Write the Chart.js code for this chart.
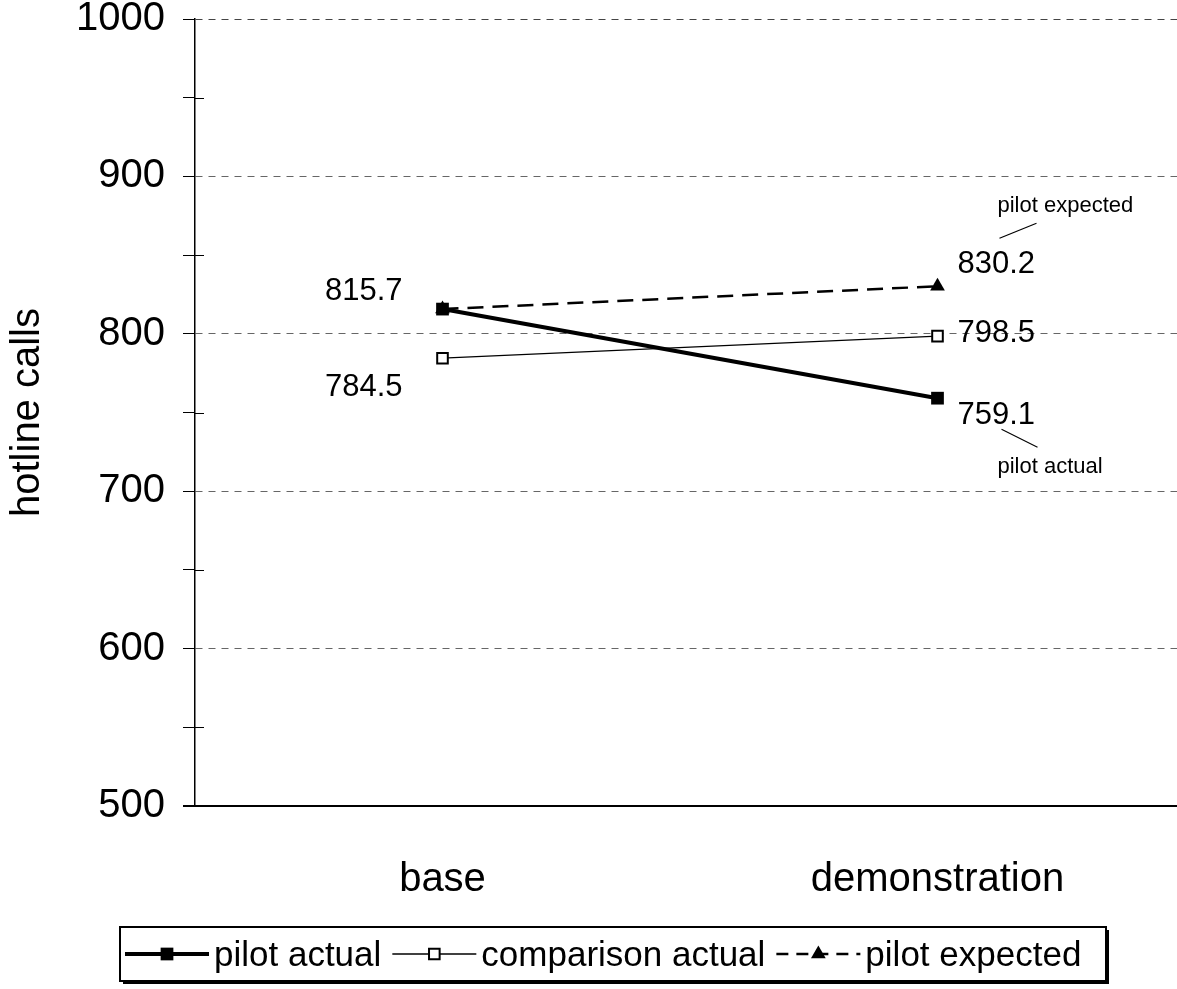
<!DOCTYPE html>
<html>
<head>
<meta charset="utf-8">
<script src="https://cdn.jsdelivr.net/npm/chart.js@4.4.0/dist/chart.umd.min.js"></script>
<style>
  html, body { margin: 0; padding: 0; background: #fff; overflow: hidden; }
  #wrap { width: 1177px; height: 989px; overflow: hidden; }
</style>
</head>
<body>
<div id="wrap"><canvas id="graph_calls" width="1185" height="989"></canvas></div>
<script>
/*------------------------------*/
/*            Données           */
/*------------------------------*/
var categories = ['base', 'demonstration']
var seriesNames = ['pilot actual', 'comparison actual', 'pilot expected']
var pilotActual = [815.7, 759.1]
var comparisonActual = [784.5, 798.5]
var pilotExpected = [815.7, 830.2]
var yLabels = [500, 600, 700, 800, 900, 1000]

var FONT = "'Liberation Sans', Arial, sans-serif"
Chart.defaults.font.family = FONT
Chart.defaults.color = '#000'

// where each value label sits relative to its point (null = no label)
var labelPlace = [
    [{dx: -40, dy: -18, align: 'right'}, {dx: 20, dy: 17, align: 'left'}],
    [{dx: -40, dy: 29, align: 'right'}, {dx: 20, dy: -3, align: 'left'}],
    [null, {dx: 20, dy: -22, align: 'left'}]
]
// series name callouts at the demonstration end
var callouts = [
    {ds: 2, idx: 1, dx: 60, dy: -80, line: [62, -48, 99, -63]},
    {ds: 0, idx: 1, dx: 60, dy: 69, line: [64, 31, 100, 49]}
]

var markers = [
    {pointStyle: 'rect', radius: 9, fill: '#000', border: 0},
    {pointStyle: 'rect', radius: 7.5, fill: '#fff', border: 2},
    {pointStyle: 'triangle', radius: 8.5, fill: '#000', border: 0}
]

/*------------------------------*/
/*        Plugin étiquettes     */
/*------------------------------*/
var labelsPlugin = {
    id: 'labels_calls',
    afterDraw: function(chart) {
        var ctx = chart.ctx
        var area = chart.chartArea
        var y = chart.scales.y
        ctx.save()

        // petites graduations intermédiaires côté intérieur
        ctx.strokeStyle = '#000'
        ctx.lineWidth = 1
        for (var v = 550; v < 1000; v += 100) {
            var py = Math.round(y.getPixelForValue(v)) + 0.5
            ctx.beginPath()
            ctx.moveTo(area.left, py)
            ctx.lineTo(area.left + 9, py)
            ctx.stroke()
        }
        // prolongement de l'axe x sous les graduations
        ctx.lineWidth = 2
        ctx.beginPath()
        ctx.moveTo(area.left - 12, area.bottom)
        ctx.lineTo(area.left, area.bottom)
        ctx.stroke()

        // valeurs
        ctx.fillStyle = '#000'
        ctx.textBaseline = 'middle'
        ctx.font = '31px ' + FONT
        chart.data.datasets.forEach(function(ds, i) {
            var meta = chart.getDatasetMeta(i)
            meta.data.forEach(function(pt, j) {
                var p = labelPlace[i][j]
                if (!p) return
                ctx.textAlign = p.align
                ctx.fillText(ds.data[j].toFixed(1), pt.x + p.dx, pt.y + p.dy)
            })
        })

        // noms des séries
        ctx.font = '22px ' + FONT
        ctx.textAlign = 'left'
        ctx.lineWidth = 1.2
        callouts.forEach(function(c) {
            var pt = chart.getDatasetMeta(c.ds).data[c.idx]
            ctx.fillText(chart.data.datasets[c.ds].label, pt.x + c.dx, pt.y + c.dy)
            ctx.beginPath()
            ctx.moveTo(pt.x + c.line[0], pt.y + c.line[1])
            ctx.lineTo(pt.x + c.line[2], pt.y + c.line[3])
            ctx.stroke()
        })

        // légende encadrée
        var bx = 120, by = 927, bw = 986, bh = 54
        ctx.fillStyle = '#000'
        ctx.fillRect(bx + 3, by + 3, bw, bh)
        ctx.fillStyle = '#fff'
        ctx.fillRect(bx, by, bw, bh)
        ctx.strokeStyle = '#000'
        ctx.lineWidth = 2
        ctx.strokeRect(bx, by, bw, bh)

        ctx.font = '35px ' + FONT
        ctx.textAlign = 'left'
        var cy = by + bh / 2
        var x = bx + 5
        chart.data.datasets.forEach(function(ds, i) {
            var m = markers[i]
            ctx.save()
            ctx.strokeStyle = '#000'
            ctx.lineWidth = ds.borderWidth
            ctx.setLineDash(ds.borderDash ? [12, 8] : [])
            ctx.beginPath()
            ctx.moveTo(x, cy)
            ctx.lineTo(x + 84, cy)
            ctx.stroke()
            ctx.setLineDash([])
            ctx.fillStyle = m.fill
            ctx.lineWidth = m.border
            Chart.helpers.drawPoint(ctx, {pointStyle: m.pointStyle, radius: m.radius, rotation: 0, borderWidth: m.border}, x + 42, cy)
            ctx.restore()
            ctx.fillStyle = '#000'
            ctx.fillText(ds.label, x + 89, cy + 2)
            x += 89 + ctx.measureText(ds.label).width + 11
        })
        ctx.restore()
    }
}

/*------------------------------*/
/*           Graphe             */
/*------------------------------*/
var ctx_calls = document.getElementById('graph_calls').getContext('2d')

var data_calls = {
    labels: categories,
    datasets: [
        {
            label: seriesNames[0],
            data: pilotActual,
            borderColor: '#000',
            borderWidth: 4,
            backgroundColor: '#000',
            pointStyle: markers[0].pointStyle,
            pointRadius: markers[0].radius,
            pointBorderWidth: 0,
            pointBackgroundColor: markers[0].fill,
            tension: 0
        },
        {
            label: seriesNames[1],
            data: comparisonActual,
            borderColor: '#000',
            borderWidth: 1.3,
            backgroundColor: '#fff',
            pointStyle: markers[1].pointStyle,
            pointRadius: markers[1].radius,
            pointBorderWidth: 2,
            pointBorderColor: '#000',
            pointBackgroundColor: markers[1].fill,
            tension: 0
        },
        {
            label: seriesNames[2],
            data: pilotExpected,
            borderColor: '#000',
            borderWidth: 2.5,
            borderDash: [16, 9],
            backgroundColor: '#000',
            pointStyle: markers[2].pointStyle,
            pointRadius: markers[2].radius,
            pointBorderWidth: 0,
            pointBackgroundColor: markers[2].fill,
            tension: 0
        }
    ]
}

var config_calls = {
    type: 'line',
    data: data_calls,
    options: {
        responsive: false,
        animation: false,
        devicePixelRatio: 1,
        layout: {
            autoPadding: false,
            padding: {top: 19, right: 0, bottom: 93, left: 0}
        },
        plugins: {
            legend: {display: false},
            tooltip: {enabled: false}
        },
        scales: {
            x: {
                offset: true,
                grid: {display: false},
                border: {display: true, color: '#000', width: 2},
                ticks: {
                    font: {size: 40},
                    color: '#000',
                    padding: 42,
                    maxRotation: 0
                },
                afterFit: function(s) {
                    s.height = 90
                    s.paddingLeft = 0
                    s.paddingRight = 0
                }
            },
            y: {
                min: 500,
                max: 1000,
                ticks: {
                    stepSize: 50,
                    autoSkip: false,
                    font: {size: 40},
                    color: '#000',
                    padding: 18,
                    callback: function(v) { return yLabels.indexOf(v) >= 0 ? v : '' }
                },
                grid: {
                    color: function(c) {
                        var v = c.tick && c.tick.value
                        if (v === 1000) return '#444'
                        return (v > 500 && yLabels.indexOf(v) >= 0) ? '#666' : 'rgba(0,0,0,0)'
                    },
                    lineWidth: 1,
                    tickColor: '#000',
                    tickLength: 12,
                    tickWidth: 1
                },
                border: {display: true, color: '#000', width: 1.5, dash: [7, 6]},
                title: {
                    display: true,
                    text: 'hotline calls',
                    font: {size: 40},
                    color: '#000',
                    padding: {top: 4, bottom: 0}
                },
                afterFit: function(s) {
                    s.width = 195
                    s.paddingTop = 0
                    s.paddingBottom = 0
                }
            }
        }
    },
    plugins: [labelsPlugin]
}
var graph_calls = new Chart(ctx_calls, config_calls)
</script>
</body>
</html>
